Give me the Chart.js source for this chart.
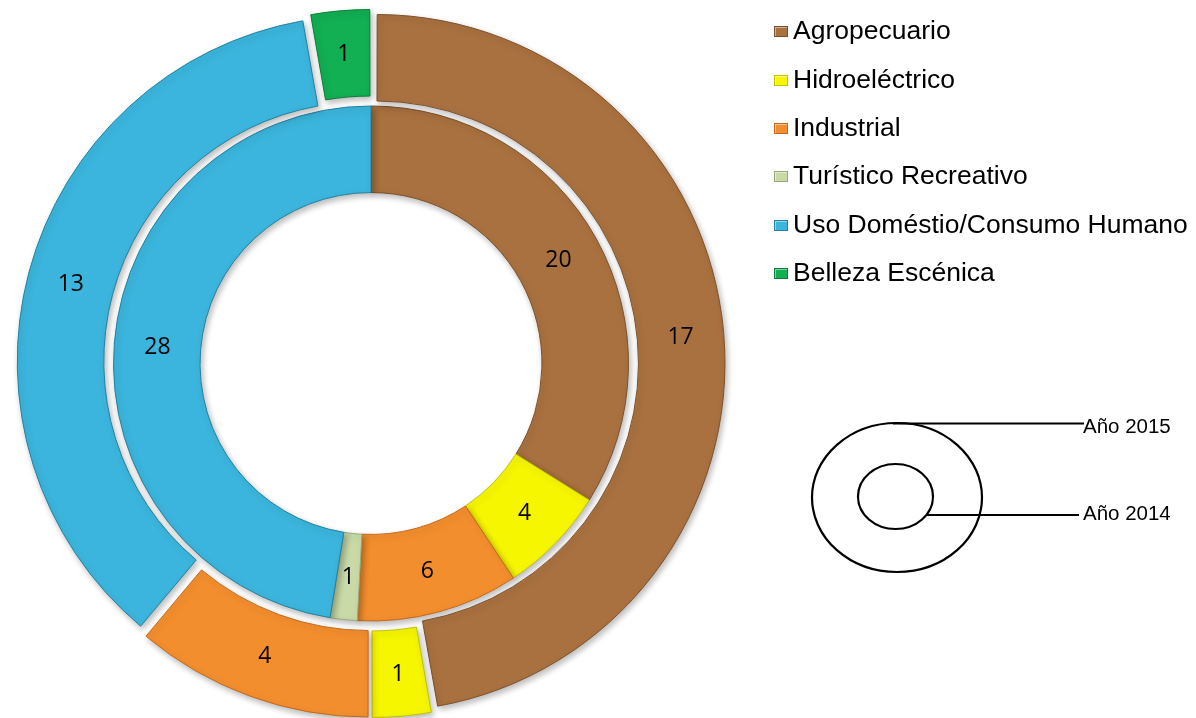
<!DOCTYPE html>
<html>
<head>
<meta charset="utf-8">
<script src="https://cdn.jsdelivr.net/npm/chart.js@4/dist/chart.umd.min.js"></script>
<style>
  html, body { margin: 0; padding: 0; background: #ffffff; }
  #wrap { position: relative; width: 1196px; height: 718px; overflow: hidden; background: #fff; }
  #c { position: absolute; left: 0; top: 0; }
  #legend { position: absolute; left: 774px; top: 6.2px; font-family: "Liberation Sans", Arial, sans-serif; font-size: 26.5px; color: #000; }
  .item { position: relative; height: 48.4px; line-height: 48.4px; white-space: nowrap; padding-left: 19px; }
  .mk { position: absolute; left: 0; top: 20px; width: 14px; height: 11px; box-sizing: border-box; }
  #diagram { position: absolute; left: 0; top: 0; }
</style>
</head>
<body>
<div id="wrap">
  <canvas id="c" width="1196" height="718"></canvas>
  <div id="legend"></div>
  <svg id="diagram" width="1196" height="718" xmlns="http://www.w3.org/2000/svg">
    <ellipse cx="897" cy="497.5" rx="85" ry="74.5" fill="none" stroke="#000" stroke-width="2.2"/>
    <ellipse cx="895.5" cy="496.5" rx="37.5" ry="32.5" fill="none" stroke="#000" stroke-width="2.2"/>
    <line x1="893" y1="423.5" x2="1084" y2="423.5" stroke="#000" stroke-width="2"/>
    <line x1="927" y1="515" x2="1079" y2="515" stroke="#000" stroke-width="2"/>
    <text x="1083" y="433" font-family="Liberation Sans, Arial, sans-serif" font-size="20.5" fill="#000">Año 2015</text>
    <text x="1083" y="520" font-family="Liberation Sans, Arial, sans-serif" font-size="20.5" fill="#000">Año 2014</text>
  </svg>
</div>
<script>
const categories = ['Agropecuario', 'Hidroeléctrico', 'Industrial', 'Turístico Recreativo', 'Uso Doméstio/Consumo Humano', 'Belleza Escénica'];
const values2015 = [17, 1, 4, 0, 13, 1];
const values2014 = [20, 4, 6, 1, 28, 0];
const seriesNames = ['Año 2015', 'Año 2014'];
const colors = ['#A9713F', '#F6F600', '#F38E2E', '#C9DAA8', '#3BB5DD', '#12AF53'];
const edgeColors = ['#7E5129', '#C2C200', '#C36A1A', '#98AA78', '#23829F', '#0A7E3A'];

// legend (HTML text)
const legendEl = document.getElementById('legend');
categories.forEach((name, i) => {
  const d = document.createElement('div');
  d.className = 'item';
  const m = document.createElement('span');
  m.className = 'mk';
  m.style.background = colors[i];
  m.style.border = '1px solid ' + edgeColors[i];
  m.style.boxShadow = 'inset 1px 1px 0 rgba(255,255,255,0.45)';
  d.appendChild(m);
  d.appendChild(document.createTextNode(name));
  legendEl.appendChild(d);
});

const OUTER_SHIFT = 10; // px explode distance for outer ring

function explodeOffset(ctx) {
  if (ctx.datasetIndex !== 0) return 0;
  const data = ctx.dataset.data;
  const total = data.reduce((a, b) => a + b, 0);
  const circ = (ctx.raw / total) * Math.PI * 2;
  return OUTER_SHIFT * 4 / (2 - Math.sin(Math.min(Math.PI, circ)));
}

const shadowPlugin = {
  id: 'shadow',
  beforeDatasetDraw(chart) {
    const ctx = chart.ctx;
    ctx.save();
    ctx.shadowColor = 'rgba(0,0,0,0.28)';
    ctx.shadowBlur = 6;
    ctx.shadowOffsetX = 2;
    ctx.shadowOffsetY = 3;
  },
  afterDatasetDraw(chart) {
    chart.ctx.restore();
  }
};

const labelPlugin = {
  id: 'ringLabels',
  afterDatasetsDraw(chart) {
    const ctx = chart.ctx;
    ctx.save();
    ctx.font = '23px "Open Sans", "Liberation Sans", sans-serif';
    ctx.fillStyle = '#000';
    ctx.textAlign = 'center';
    ctx.textBaseline = 'middle';
    chart.data.datasets.forEach((ds, di) => {
      const meta = chart.getDatasetMeta(di);
      meta.data.forEach((arc, i) => {
        const v = ds.data[i];
        if (!v) return;
        const p = arc.getProps(['x', 'y', 'startAngle', 'endAngle', 'innerRadius', 'outerRadius', 'circumference'], true);
        const mid = (p.startAngle + p.endAngle) / 2;
        const off = (arc.options.offset || 0) / 4;
        const shift = off * (1 + (1 - Math.sin(Math.min(Math.PI, p.circumference))));
        const r = (p.innerRadius + p.outerRadius) / 2 + shift;
        ctx.fillText(String(v), p.x + Math.cos(mid) * r, p.y + Math.sin(mid) * r + 1);
      });
    });
    ctx.restore();
  }
};

new Chart(document.getElementById('c'), {
  type: 'doughnut',
  data: {
    labels: categories,
    datasets: [
      { label: seriesNames[0], data: values2015, backgroundColor: colors, borderColor: edgeColors, borderWidth: 1, offset: explodeOffset, hoverOffset: 0 },
      { label: seriesNames[1], data: values2014, backgroundColor: colors, borderColor: edgeColors, borderWidth: 1, offset: 0, hoverOffset: 0 }
    ]
  },
  options: {
    responsive: false,
    animation: false,
    devicePixelRatio: 1,
    radius: 344,
    cutout: '49.7%',
    layout: { padding: { left: 0, right: 454, top: 9, bottom: 0 } },
    plugins: {
      legend: { display: false },
      tooltip: { enabled: false }
    },
    events: []
  },
  plugins: [shadowPlugin, labelPlugin]
});
</script>
</body>
</html>
